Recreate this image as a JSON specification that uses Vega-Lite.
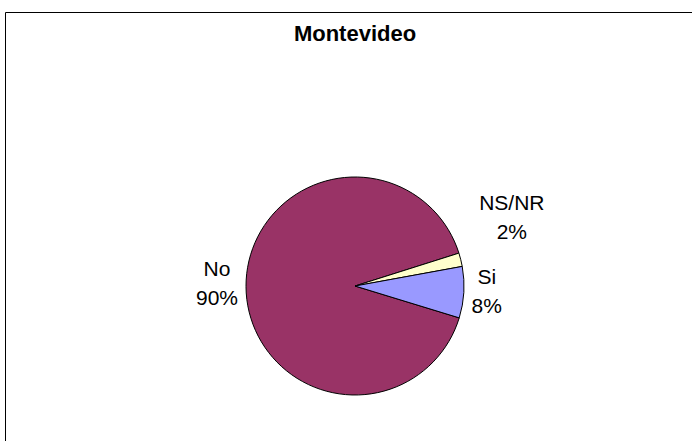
{
  "$schema": "https://vega.github.io/schema/vega-lite/v6.json",
  "width": 700,
  "height": 548,
  "autosize": {"type": "none"},
  "padding": {"left": 5, "top": 12, "right": 0, "bottom": 0},
  "background": "white",
  "view": {"stroke": "#000000", "strokeWidth": 1, "fill": "white"},
  "title": {
    "text": "Montevideo",
    "font": "Liberation Sans",
    "fontSize": 22,
    "fontWeight": "bold",
    "color": "#000000",
    "anchor": "middle",
    "frame": "group",
    "baseline": "top",
    "offset": -34
  },
  "data": {
    "values": [
      {"categoria": "No", "valor": 90.4, "etiqueta": "No\n90%", "orden": 1},
      {"categoria": "NS/NR", "valor": 2.0, "etiqueta": "NS/NR\n2%", "orden": 2},
      {"categoria": "Si", "valor": 7.6, "etiqueta": "Si\n8%", "orden": 3}
    ]
  },
  "encoding": {
    "theta": {"field": "valor", "type": "quantitative", "stack": true, "scale": {"domain": [0, 100], "range": [1.8675, 8.1507]}},
    "order": {"field": "orden", "type": "quantitative"}
  },
  "layer": [
    {
      "mark": {"type": "arc", "radius": 109, "stroke": "#000000", "strokeWidth": 1},
      "encoding": {
        "color": {
          "field": "categoria",
          "type": "nominal",
          "scale": {"domain": ["No", "NS/NR", "Si"], "range": ["#993366", "#FFFFCC", "#9999FF"]},
          "legend": null
        }
      }
    },
    {
      "mark": {"type": "text", "radius": 138, "dy": -17, "font": "Liberation Sans", "fontSize": 21, "lineBreak": "\n", "lineHeight": 29, "align": "center", "baseline": "middle", "color": "#000000"},
      "encoding": {
        "text": {"condition": {"test": "datum.categoria === 'No'", "field": "etiqueta"}, "value": ""}
      }
    },
    {
      "mark": {"type": "text", "radius": 132, "dy": -16, "font": "Liberation Sans", "fontSize": 21, "lineBreak": "\n", "lineHeight": 29, "align": "center", "baseline": "middle", "color": "#000000"},
      "encoding": {
        "text": {"condition": {"test": "datum.categoria === 'Si'", "field": "etiqueta"}, "value": ""}
      }
    },
    {
      "mark": {"type": "text", "radius": 140, "dx": 21, "dy": -48, "font": "Liberation Sans", "fontSize": 21, "lineBreak": "\n", "lineHeight": 29, "align": "center", "baseline": "middle", "color": "#000000"},
      "encoding": {
        "text": {"condition": {"test": "datum.categoria === 'NS/NR'", "field": "etiqueta"}, "value": ""}
      }
    }
  ]
}
